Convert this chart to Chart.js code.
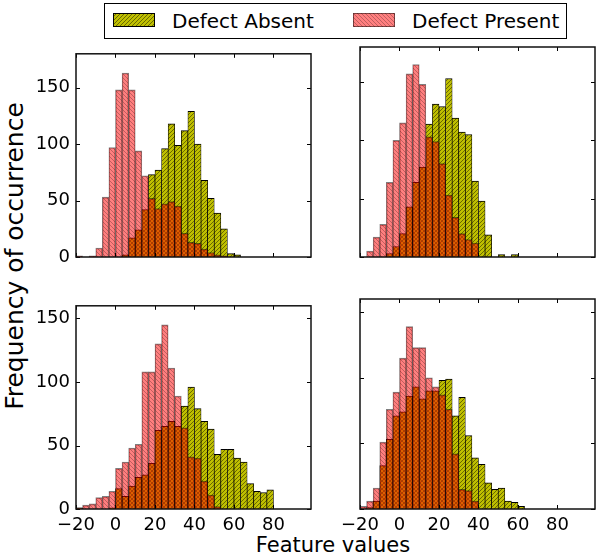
<!DOCTYPE html>
<html>
<head>
<meta charset="utf-8">
<script src="https://cdn.jsdelivr.net/npm/chart.js@4.4.1/dist/chart.umd.min.js"></script>
<style>
  body { margin: 0; background: #fff; }
  #fig { position: relative; width: 600px; height: 557px; font-family: 'DejaVu Sans', sans-serif; color: #000; }
  .panel { position: absolute; }
  #legend { position: absolute; left: 104px; top: 3px; width: 461px; height: 34px; border: 1.5px solid #000; background: #fff; }
  #legend canvas { position: absolute; top: 9px; }
  #legend span { position: absolute; top: 5px; font-size: 20px; white-space: nowrap; }
  .axis-title { position: absolute; white-space: nowrap; }
</style>
</head>
<body>
<div id="fig">
  <div id="legend">
    <canvas id="sw-absent" width="42" height="14" style="left:8px"></canvas>
    <span style="left:67px">Defect Absent</span>
    <canvas id="sw-present" width="42" height="14" style="left:248px"></canvas>
    <span style="left:307px">Defect Present</span>
  </div>
  <div class="axis-title" id="xtitle" style="left:333px; top:533px; font-size:21px; transform:translateX(-50%)">Feature values</div>
  <div class="axis-title" id="ytitle" style="left:14px; top:256px; font-size:25px; transform:translate(-50%,-50%) rotate(-90deg)">Frequency of occurrence</div>
</div>
<script>
// bin centres (bins 10/3 wide, starting at -20)
const BIN_CENTERS = [-18.33, -15, -11.67, -8.33, -5, -1.67, 1.67, 5, 8.33, 11.67,
  15, 18.33, 21.67, 25, 28.33, 31.67, 35, 38.33, 41.67, 45,
  48.33, 51.67, 55, 58.33, 61.67, 65, 68.33, 71.67, 75, 78.33];

const X_TICKS = [-20, 0, 20, 40, 60, 80];
const Y_TICKS = [0, 50, 100, 150];

// top-left panel
const TL_ABSENT = [0, 0, 0, 0, 0, 0, 0, 2, 17, 24, 42, 73, 77, 96, 118, 99, 112, 129, 100, 68, 52, 39, 25, 3, 2, 0, 0, 0, 0, 0];
const TL_PRESENT = [1, 0, 1, 8, 53, 97, 148, 163, 148, 94, 72, 52, 43, 47, 49, 45, 21, 13, 12, 7, 4, 2, 1, 0, 0, 0, 0, 0, 0, 0];
// top-right panel
const TR_ABSENT = [0, 0, 0, 0, 3, 9, 20, 43, 64, 77, 114, 131, 129, 153, 119, 107, 105, 65, 48, 19, 0, 2, 0, 2, 0, 0, 0, 0, 0, 0];
const TR_PRESENT = [0, 5, 17, 28, 64, 100, 115, 157, 165, 148, 103, 99, 80, 53, 34, 20, 15, 12, 0, 0, 0, 0, 0, 0, 0, 0, 0, 0, 0, 0];
// bottom-left panel
const BL_ABSENT = [1, 0, 0, 0, 0, 1, 16, 10, 18, 25, 27, 36, 62, 65, 69, 65, 81, 96, 79, 69, 63, 43, 47, 47, 40, 37, 20, 14, 13, 15];
const BL_PRESENT = [1, 3, 4, 9, 10, 14, 32, 37, 48, 51, 108, 108, 130, 145, 111, 89, 64, 41, 40, 22, 11, 2, 0, 0, 0, 0, 0, 0, 0, 0];
// bottom-right panel
const BR_ABSENT = [0, 1, 6, 33, 53, 71, 74, 86, 93, 84, 90, 90, 98, 99, 71, 85, 56, 39, 34, 20, 15, 16, 6, 5, 2, 0, 0, 0, 0, 0];
const BR_PRESENT = [2, 6, 16, 51, 76, 89, 115, 139, 123, 123, 100, 93, 87, 76, 42, 15, 14, 6, 0, 0, 0, 0, 0, 0, 0, 0, 0, 0, 0, 0];

function hatch(bg, line, forward) {
  const s = 4;
  const c = document.createElement('canvas');
  c.width = s; c.height = s;
  const g = c.getContext('2d');
  g.fillStyle = bg;
  g.fillRect(0, 0, s, s);
  g.strokeStyle = line;
  g.lineWidth = 1;
  g.beginPath();
  if (forward) {
    g.moveTo(-1, s + 1); g.lineTo(s + 1, -1);
  } else {
    g.moveTo(-1, -1); g.lineTo(s + 1, s + 1);
  }
  g.stroke();
  return g.createPattern(c, 'repeat');
}

const oliveFill = hatch('#bfbf00', 'rgba(0,0,0,0.45)', true);
const redFill = hatch('rgba(255,0,0,0.5)', 'rgba(0,0,0,0.25)', false);

function swatch(id, fill, edge) {
  const c = document.getElementById(id);
  const g = c.getContext('2d');
  g.fillStyle = fill;
  g.fillRect(0, 0, c.width, c.height);
  g.strokeStyle = edge;
  g.lineWidth = 1;
  g.strokeRect(0.5, 0.5, c.width - 1, c.height - 1);
}
swatch('sw-absent', oliveFill, '#000');
swatch('sw-present', redFill, 'rgba(0,0,0,0.5)');

const framePlugin = {
  id: 'frame',
  afterDraw(chart) {
    const { ctx, chartArea: a, scales: { x, y } } = chart;
    ctx.save();
    ctx.strokeStyle = '#000';
    ctx.lineWidth = 1;
    ctx.beginPath();
    X_TICKS.forEach((v) => {
      const px = Math.round(x.getPixelForValue(v)) + 0.5;
      ctx.moveTo(px, a.bottom); ctx.lineTo(px, a.bottom - 4);
      ctx.moveTo(px, a.top); ctx.lineTo(px, a.top + 4);
    });
    Y_TICKS.forEach((v) => {
      const py = Math.round(y.getPixelForValue(v)) + 0.5;
      ctx.moveTo(a.left, py); ctx.lineTo(a.left + 4, py);
      ctx.moveTo(a.right, py); ctx.lineTo(a.right - 4, py);
    });
    ctx.stroke();
    ctx.lineWidth = 1.5;
    ctx.strokeStyle = '#111';
    ctx.strokeRect(a.left, a.top, a.right - a.left, a.bottom - a.top);
    ctx.restore();
  },
};

const fmt = (v) => (v < 0 ? '\u2212' + Math.abs(v) : String(v));

function makePanel({ left, top, absent, present, yMax, showX, showY }) {
  const padL = 70, padT = 10, padR = 10, padB = 40;
  const w = 235, h = 210;
  const div = document.createElement('div');
  div.className = 'panel';
  div.style.left = (left - padL) + 'px';
  div.style.top = (top - padT) + 'px';
  const canvas = document.createElement('canvas');
  canvas.width = w + padL + padR;
  canvas.height = h + padT + padB;
  div.appendChild(canvas);
  document.getElementById('fig').appendChild(div);

  const common = { grouped: false, barPercentage: 1, categoryPercentage: 1, borderSkipped: 'start' };
  return new Chart(canvas, {
    type: 'bar',
    data: {
      datasets: [
        {
          label: 'Defect Absent',
          data: BIN_CENTERS.map((x, i) => ({ x, y: absent[i] })),
          backgroundColor: oliveFill,
          borderColor: '#000',
          borderWidth: { left: 0.7, right: 0.7, top: 1, bottom: 0 },
          order: 2,
          ...common,
        },
        {
          label: 'Defect Present',
          data: BIN_CENTERS.map((x, i) => ({ x, y: present[i] })),
          backgroundColor: redFill,
          borderColor: 'rgba(0,0,0,0.5)',
          borderWidth: { left: 0.7, right: 0.7, top: 1, bottom: 0 },
          order: 1,
          ...common,
        },
      ],
    },
    options: {
      responsive: false,
      animation: false,
      events: [],
      layout: { padding: { left: 0, top: padT, right: padR, bottom: 0 } },
      plugins: { legend: { display: false }, tooltip: { enabled: false } },
      scales: {
        x: {
          type: 'linear',
          min: -20,
          max: 99,
          offset: false,
          grid: { display: false, drawTicks: false },
          border: { display: false },
          afterBuildTicks: (s) => { s.ticks = X_TICKS.map((value) => ({ value })); },
          afterFit: (s) => { s.height = padB; },
          ticks: {
            display: showX,
            padding: 6,
            color: '#000',
            maxRotation: 0,
            font: { family: 'DejaVu Sans', size: 18 },
            callback: fmt,
          },
        },
        y: {
          min: 0,
          max: yMax,
          grid: { display: false, drawTicks: false },
          border: { display: false },
          afterBuildTicks: (s) => { s.ticks = Y_TICKS.map((value) => ({ value })); },
          afterFit: (s) => { s.width = padL; },
          ticks: {
            display: showY,
            padding: 6,
            color: '#000',
            font: { family: 'DejaVu Sans', size: 18 },
            callback: fmt,
          },
        },
      },
    },
    plugins: [framePlugin],
  });
}

makePanel({ left: 76, top: 47, absent: TL_ABSENT, present: TL_PRESENT, yMax: 180, showX: false, showY: true });
makePanel({ left: 360, top: 47, absent: TR_ABSENT, present: TR_PRESENT, yMax: 180, showX: false, showY: false });
makePanel({ left: 76, top: 299, absent: BL_ABSENT, present: BL_PRESENT, yMax: 160, showX: true, showY: true });
makePanel({ left: 360, top: 299, absent: BR_ABSENT, present: BR_PRESENT, yMax: 160, showX: true, showY: false });
</script>
</body>
</html>
